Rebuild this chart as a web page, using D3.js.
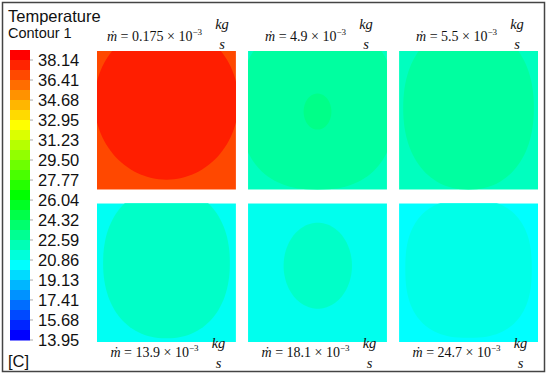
<!DOCTYPE html>
<html>
<head>
<meta charset="utf-8">
<script src="https://cdn.jsdelivr.net/npm/d3@7"></script>
<style>
  body { margin: 0; background: #fff; }
  svg { display: block; }
</style>
</head>
<body>
<div id="chart"></div>
<script>
// colour bar labels (deg C), top to bottom
var legendLabels = [38.14, 36.41, 34.68, 32.95, 31.23, 29.50, 27.77, 26.04,
                    24.32, 22.59, 20.86, 19.13, 17.41, 15.68, 13.95];
var bandCount = 29;

// mass flow rate of each case (x 10^-3 kg/s), row by row
var flowRates = ["0.175", "4.9", "5.5", "13.9", "18.1", "24.7"];

// temperature of the outer (corner) zone of each section
var baseTemps = [36.86, 21.94, 21.94, 20.70, 20.83, 20.43];

// inner contour zones, section coordinates 0..1 (u across, v down)
var zones = [
  [{t: 37.87, u: 0.50, v: 0.367, ru: 0.518, rv: 0.561, n: 2.0}],
  [{t: 22.69, u: 0.50, v: 0.40, ru: 0.56, rv: 0.60, n: 2.4},
   {t: 23.25, u: 0.50, v: 0.437, ru: 0.10, rv: 0.13, n: 2.0}],
  [{t: 22.69, u: 0.50, v: 0.41, ru: 0.47, rv: 0.59, n: 2.2}],
  [{t: 21.74, u: 0.50, v: 0.43, ru: 0.456, rv: 0.543, n: 2.2}],
  [{t: 21.74, u: 0.502, v: 0.45, ru: 0.246, rv: 0.31, n: 2.0}],
  [{t: 20.97, u: 0.50, v: 0.47, ru: 0.455, rv: 0.50, n: 2.5}]
];

var W = 550, H = 378;

var svg = d3.select("#chart").append("svg")
    .attr("width", W)
    .attr("height", H);

// outer frame
svg.append("rect")
    .attr("x", 2.5).attr("y", 2.5)
    .attr("width", 542).attr("height", 369)
    .attr("fill", "none")
    .attr("stroke", "#444")
    .attr("stroke-width", 1.5);

// rainbow map: red at the top of the bar, blue at the bottom
var hue = d3.scaleLinear().domain([38.57, 14.38]).range([0, 240]).clamp(true);
function color(t) {
    return d3.hsl(hue(t), 1, 0.5).toString();
}

/* ---- legend ---- */
var legend = svg.append("g");

legend.append("text").text("Temperature")
    .attr("x", 8).attr("y", 22)
    .attr("font-family", "Liberation Sans, Arial, sans-serif")
    .attr("font-size", "16.5px")
    .attr("fill", "#111");

legend.append("text").text("Contour 1")
    .attr("x", 8).attr("y", 38)
    .attr("font-family", "Liberation Sans, Arial, sans-serif")
    .attr("font-size", "14.5px")
    .attr("fill", "#111");

var yVal = d3.scaleLinear().domain([13.95, 38.14]).range([340, 60]);
var yBand = d3.scaleBand().domain(d3.range(bandCount)).range([50, 340]);

legend.selectAll("rect.band")
    .data(d3.range(bandCount))
    .enter().append("rect")
    .attr("class", "band")
    .attr("x", 10)
    .attr("width", 20)
    .attr("y", function (d) { return yBand(d); })
    .attr("height", yBand.bandwidth() + 0.5)
    .attr("fill", function (d) {
        return color(yVal.invert(yBand(d) + yBand.bandwidth() / 2));
    });

legend.selectAll("line.tick")
    .data(legendLabels)
    .enter().append("line")
    .attr("class", "tick")
    .attr("x1", 30).attr("x2", 33)
    .attr("y1", function (d) { return yVal(d); })
    .attr("y2", function (d) { return yVal(d); })
    .attr("stroke", "#aaa");

legend.selectAll("text.lab")
    .data(legendLabels)
    .enter().append("text")
    .attr("class", "lab")
    .attr("x", 38)
    .attr("y", function (d) { return yVal(d) + 6; })
    .attr("font-family", "Liberation Sans, Arial, sans-serif")
    .attr("font-size", "16.5px")
    .attr("fill", "#111")
    .text(function (d) { return d.toFixed(2); });

legend.append("text").text("[C]")
    .attr("x", 8).attr("y", 367)
    .attr("font-family", "Liberation Sans, Arial, sans-serif")
    .attr("font-size", "16.5px")
    .attr("fill", "#111");

/* ---- contour panels ---- */
var col = d3.scaleBand().domain([0, 1, 2]).range([97, 538]).paddingInner(0.08);
var row = d3.scaleBand().domain([0, 1]).range([51, 342]).paddingInner(0.09);

function superEllipse(z) {
    var pts = [];
    for (var k = 0; k < 120; k++) {
        var a = k / 120 * 2 * Math.PI;
        var c = Math.cos(a), s = Math.sin(a);
        pts.push({
            u: z.u + z.ru * Math.sign(c) * Math.pow(Math.abs(c), 2 / z.n),
            v: z.v + z.rv * Math.sign(s) * Math.pow(Math.abs(s), 2 / z.n)
        });
    }
    return pts;
}

var defs = svg.append("defs");
var serif = "Liberation Serif, Times New Roman, serif";

flowRates.forEach(function (rate, i) {
    var r = Math.floor(i / 3), c = i % 3;
    var x = d3.scaleLinear().domain([0, 1]).range([col(c), col(c) + col.bandwidth()]);
    var y = d3.scaleLinear().domain([0, 1]).range([row(r), row(r) + row.bandwidth()]);

    defs.append("clipPath").attr("id", "clip" + i)
        .append("rect")
        .attr("x", x(0)).attr("y", y(0))
        .attr("width", x(1) - x(0)).attr("height", y(1) - y(0));

    var g = svg.append("g").attr("clip-path", "url(#clip" + i + ")");

    g.append("rect")
        .attr("x", x(0)).attr("y", y(0))
        .attr("width", x(1) - x(0)).attr("height", y(1) - y(0))
        .attr("fill", color(baseTemps[i]));

    var line = d3.line()
        .x(function (d) { return x(d.u); })
        .y(function (d) { return y(d.v); })
        .curve(d3.curveLinearClosed);

    g.selectAll("path")
        .data(zones[i])
        .enter().append("path")
        .attr("d", function (d) { return line(superEllipse(d)); })
        .attr("fill", function (d) { return color(d.t); });

    // title: m-dot = rate x 10^-3 kg/s
    var cx = x(0.5) + 2;
    var base = r === 0 ? 41 : 357;
    var kgOff = r === 0 ? -12 : -9;
    var sOff = r === 0 ? 8 : 11;
    var tg = svg.append("g");
    var main = tg.append("text")
        .attr("y", base)
        .attr("font-family", serif)
        .attr("font-size", "14px")
        .attr("fill", "#111");
    main.append("tspan").attr("font-style", "italic").text("ṁ");
    main.append("tspan").text(" = " + rate + " × 10");
    main.append("tspan").attr("font-size", "9px").attr("dy", -6).text("−3");

    var mw = main.node().getComputedTextLength();
    var gap = 12, fw = 16;
    var x0 = cx - (mw + gap + fw) / 2;
    main.attr("x", x0);
    var fx = x0 + mw + gap + fw / 2;

    tg.append("text").text("kg")
        .attr("x", fx).attr("y", base + kgOff)
        .attr("text-anchor", "middle")
        .attr("font-family", serif)
        .attr("font-style", "italic")
        .attr("font-size", "14.5px")
        .attr("fill", "#111");
    tg.append("text").text("s")
        .attr("x", fx).attr("y", base + sOff)
        .attr("text-anchor", "middle")
        .attr("font-family", serif)
        .attr("font-style", "italic")
        .attr("font-size", "14.5px")
        .attr("fill", "#111");
});
</script>
</body>
</html>
